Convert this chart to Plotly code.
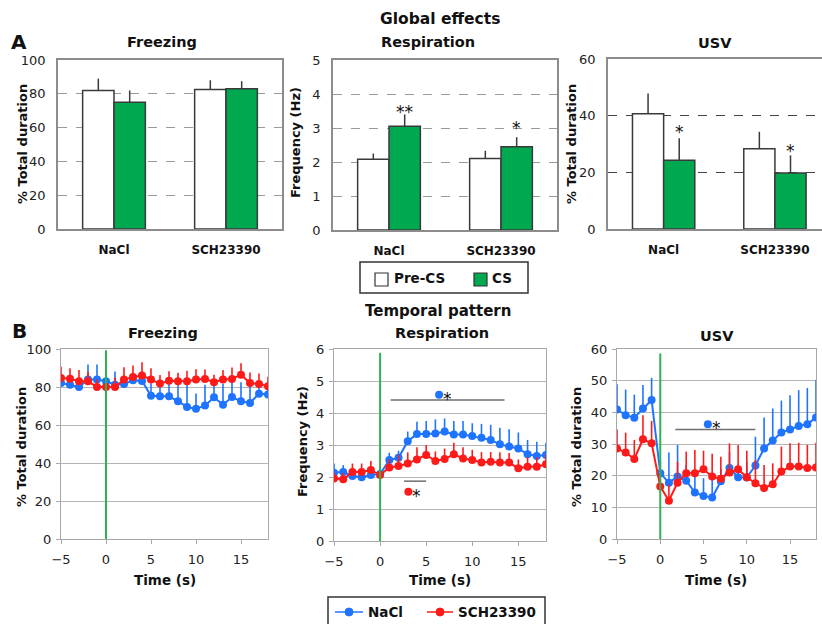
import plotly.graph_objects as go

W, H = 822, 624

# ---------------- data: Global effects (bar charts) ----------------
groups = ["NaCl", "SCH23390"]
freeze_pre = [82.0, 82.5]
freeze_pre_err = [7.0, 5.5]
freeze_cs = [75.0, 83.0]
freeze_cs_err = [7.0, 4.5]
resp_pre = [2.08, 2.10]
resp_pre_err = [0.17, 0.23]
resp_cs = [3.05, 2.45]
resp_cs_err = [0.35, 0.28]
usv_pre = [40.7, 28.3]
usv_pre_err = [7.1, 6.0]
usv_cs = [24.3, 19.8]
usv_cs_err = [7.7, 6.2]
resp_stars = ["**", "*"]
resp_star_y = [3.59, 3.12]
usv_stars = ["*", "*"]
usv_star_y = [35.6, 29.0]

# ---------------- data: Temporal pattern ----------------
time_s = list(range(-5, 19))
frz_nacl = [82.1, 81.2, 80.0, 83.9, 83.9, 83.0, 81.2, 81.6, 83.5, 83.2, 75.4, 75.1,
            75.1, 72.5, 69.5, 68.6, 70.2, 74.6, 70.7, 74.7, 72.5, 71.6, 76.5, 76.1]
frz_nacl_err = [3, 3, 3, 8, 8, 6, 7, 4, 4, 4, 6.6, 7, 7, 9, 12, 8, 11, 8, 11, 8, 10, 10, 6, 6]
frz_sch = [84.7, 84.4, 83.0, 83.0, 80.0, 80.0, 80.0, 83.9, 85.3, 86.0, 83.9, 81.8,
           83.3, 83.0, 83.0, 83.9, 84.2, 82.5, 83.9, 84.2, 86.5, 82.1, 81.6, 80.4]
frz_sch_err = [6, 5.5, 6, 5, 4, 4, 5, 6.5, 6, 7, 6, 4.5, 5, 4.5, 5.5, 5.5, 5, 4, 5, 6, 6, 5.5, 5.5, 5]

rsp_nacl = [2.13, 2.16, 2.03, 1.99, 2.06, 2.09, 2.53, 2.60, 3.12, 3.34, 3.34, 3.36,
            3.42, 3.33, 3.33, 3.28, 3.23, 3.16, 3.02, 2.95, 2.89, 2.71, 2.66, 2.69]
rsp_nacl_err = [0.29, 0.21, 0.12, 0.12, 0.15, 0.20, 0.23, 0.22, 0.30, 0.39, 0.41, 0.44,
                0.41, 0.42, 0.42, 0.40, 0.43, 0.47, 0.52, 0.54, 0.50, 0.45, 0.44, 0.38]
rsp_sch = [1.95, 1.93, 2.16, 2.16, 2.22, 2.06, 2.30, 2.34, 2.42, 2.55, 2.69, 2.50,
           2.56, 2.71, 2.58, 2.53, 2.45, 2.48, 2.45, 2.45, 2.27, 2.32, 2.32, 2.40]
rsp_sch_err = [0.20, 0.20, 0.26, 0.26, 0.28, 0.26, 0.25, 0.35, 0.35, 0.38, 0.31, 0.30,
               0.33, 0.36, 0.35, 0.32, 0.33, 0.30, 0.32, 0.30, 0.28, 0.30, 0.30, 0.30]

usv_nacl = [40.9, 39.1, 38.3, 41.2, 43.9, 20.8, 17.8, 19.7, 18.4, 14.7, 13.6, 13.1,
            18.2, 22.4, 19.5, 19.4, 23.2, 28.6, 31.1, 33.6, 34.6, 35.7, 36.2, 38.4]
usv_nacl_err = [8.0, 8.1, 7.3, 7.4, 7.0, 4.0, 9.5, 10.0, 5.0, 6.6, 5.6, 5.6,
                4.0, 5.0, 4.0, 5.0, 9.1, 9.8, 10.1, 10.1, 10.8, 11.3, 11.5, 11.8]
usv_sch = [28.6, 27.3, 25.3, 31.5, 30.2, 16.6, 12.1, 17.8, 20.8, 20.8, 22.0, 19.7,
           19.0, 21.0, 22.0, 19.5, 17.6, 16.1, 17.3, 21.3, 22.9, 22.9, 22.4, 22.6]
usv_sch_err = [6.0, 6.3, 6.0, 7.6, 7.1, 4.0, 5.0, 6.6, 6.8, 7.3, 5.9, 7.2,
               7.0, 9.2, 7.7, 8.4, 7.4, 7.3, 6.6, 7.9, 7.3, 7.5, 7.3, 7.8]

# significance markers (span start, span end, line y, dot x, dot y, star x)
rsp_sig_nacl = [1.15, 13.5, 4.41, 6.4, 4.57, 7.35]
rsp_sig_sch = [2.6, 5.0, 1.87, 3.07, 1.54, 4.0]
usv_sig_nacl = [1.75, 11.0, 34.6, 5.5, 36.2, 6.45]

# ---------------- styles ----------------
FONT = "DejaVu Sans"
BLUE = "#1f74ff"
RED = "#ff1a1a"
GREEN = "#00a94f"
VGREEN = "#2fb350"
DARK = "#333333"


def xd(a, b):
    return [a / W, b / W]


def yd(top, bottom):
    return [1 - bottom / H, 1 - top / H]


def px(x):
    return x / W


def py(y):
    return 1 - y / H


fig = go.Figure()


def ax(k):
    return ("x" if k == 1 else f"x{k}"), ("y" if k == 1 else f"y{k}")


def bar_panel(k, pre, pre_err, cs, cs_err):
    xa, ya = ax(k)
    pos = list(range(len(groups)))
    fig.add_trace(go.Bar(
        x=pos, y=pre, xaxis=xa, yaxis=ya, offsetgroup="pre", name="Pre-CS",
        marker=dict(color="white", line=dict(color="#3a3a3a", width=1.5)),
        error_y=dict(type="data", array=pre_err, arrayminus=[0] * len(pre),
                     symmetric=False, width=0, thickness=1.5, color="#3a3a3a"),
        showlegend=False))
    fig.add_trace(go.Bar(
        x=pos, y=cs, xaxis=xa, yaxis=ya, offsetgroup="cs", name="CS",
        marker=dict(color=GREEN, line=dict(color="#3a3a3a", width=1.5)),
        error_y=dict(type="data", array=cs_err, arrayminus=[0] * len(cs),
                     symmetric=False, width=0, thickness=1.5, color="#3a3a3a"),
        showlegend=False))


bar_panel(1, freeze_pre, freeze_pre_err, freeze_cs, freeze_cs_err)
bar_panel(2, resp_pre, resp_pre_err, resp_cs, resp_cs_err)
bar_panel(3, usv_pre, usv_pre_err, usv_cs, usv_cs_err)


def line_panel(k, nacl, nacl_err, sch, sch_err):
    xa, ya = ax(k)
    for vals, err, col, nm in [(nacl, nacl_err, BLUE, "NaCl"), (sch, sch_err, RED, "SCH23390")]:
        fig.add_trace(go.Scatter(
            x=time_s, y=vals, xaxis=xa, yaxis=ya, mode="lines+markers", name=nm,
            line=dict(color=col, width=2), marker=dict(color=col, size=8),
            error_y=dict(type="data", array=err, arrayminus=[0] * len(vals),
                         symmetric=False, width=0, thickness=1.6, color=col),
            showlegend=False))


line_panel(4, frz_nacl, frz_nacl_err, frz_sch, frz_sch_err)
line_panel(5, rsp_nacl, rsp_nacl_err, rsp_sch, rsp_sch_err)
line_panel(6, usv_nacl, usv_nacl_err, usv_sch, usv_sch_err)

shapes = []
annotations = []


def sig(k, spec, dotcol):
    xa, ya = ax(k)
    x0, x1, ly, dx, dy, sx = spec
    shapes.append(dict(type="line", xref=xa, yref=ya, x0=x0, x1=x1, y0=ly, y1=ly,
                       line=dict(color="#6e6e6e", width=1.5)))
    fig.add_trace(go.Scatter(x=[dx], y=[dy], xaxis=xa, yaxis=ya, mode="markers",
                             marker=dict(color=dotcol, size=8), showlegend=False,
                             hoverinfo="skip"))
    annotations.append(dict(xref=xa, yref=ya, x=sx, y=dy, text="*", showarrow=False,
                            font=dict(family=FONT, size=17, color="#111"),
                            yshift=-4))


sig(5, rsp_sig_nacl, BLUE)
sig(5, rsp_sig_sch, RED)
sig(6, usv_sig_nacl, BLUE)

# green CS-onset lines
for k, top in [(4, 99.3), (5, 5.88), (6, 58.6)]:
    xa, ya = ax(k)
    shapes.append(dict(type="line", xref=xa, yref=ya, x0=0, x1=0, y0=0, y1=top,
                       line=dict(color=VGREEN, width=2)))

# stars on bar charts
bar_off = (1 - 0.44) / 4
for i, s in enumerate(resp_stars):
    annotations.append(dict(xref="x2", yref="y2", x=i + bar_off, y=resp_star_y[i], text=s,
                            showarrow=False, yshift=-4,
                            font=dict(family=FONT, size=17, color="#111")))
for i, s in enumerate(usv_stars):
    annotations.append(dict(xref="x3", yref="y3", x=i + bar_off, y=usv_star_y[i], text=s,
                            showarrow=False, yshift=-4,
                            font=dict(family=FONT, size=17, color="#111")))


def txt(x, y, s, size=14, bold=True, xanchor="center", angle=0):
    annotations.append(dict(xref="paper", yref="paper", x=px(x), y=py(y), text=s,
                            showarrow=False, xanchor=xanchor, yanchor="middle",
                            textangle=angle,
                            font=dict(family=FONT, size=size, color="#111",
                                      weight="bold" if bold else "normal")))


# titles
txt(440, 19, "Global effects", 15.5)
txt(19, 42, "A", 20)
txt(162, 42, "Freezing", 14.5)
txt(428, 42, "Respiration", 14.5)
txt(715, 43, "USV", 14.5)
txt(438, 311, "Temporal pattern", 15)
txt(19, 331, "B", 20)
txt(163, 333, "Freezing", 14.5)
txt(442, 333, "Respiration", 14.5)
txt(717, 336, "USV", 14.5)

# axis titles
txt(22, 144, "% Total duration", 13, angle=-90)
txt(296, 143, "Frequency (Hz)", 13, angle=-90)
txt(571, 144, "% Total duration", 13, angle=-90)
txt(21, 447, "% Total duration", 13, angle=-90)
txt(302, 442, "Frequency (Hz)", 13, angle=-90)
txt(576, 447, "% Total duration", 13, angle=-90)
txt(165, 580, "Time (s)", 13.5)
txt(440, 580, "Time (s)", 13.5)
txt(716, 580, "Time (s)", 13.5)

# legend A
shapes.append(dict(type="rect", xref="paper", yref="paper", x0=px(360), x1=px(528),
                   y0=py(293), y1=py(262), line=dict(color=DARK, width=1.5)))
shapes.append(dict(type="rect", xref="paper", yref="paper", x0=px(375), x1=px(388),
                   y0=py(286), y1=py(273), line=dict(color=DARK, width=1.2),
                   fillcolor="white"))
shapes.append(dict(type="rect", xref="paper", yref="paper", x0=px(474), x1=px(487),
                   y0=py(286), y1=py(273), line=dict(color=DARK, width=1.2),
                   fillcolor=GREEN))
txt(392, 278, "Pre-CS", 13.5, xanchor="left")
txt(490, 278, "CS", 13.5, xanchor="left")

# legend B
shapes.append(dict(type="rect", xref="paper", yref="paper", x0=px(328), x1=px(545),
                   y0=py(640), y1=py(597), line=dict(color=DARK, width=1.5)))
for (x0, x1, cx, col, lab, tx) in [(335, 363, 349, BLUE, "NaCl", 366),
                                    (427, 453, 440, RED, "SCH23390", 456)]:
    shapes.append(dict(type="line", xref="paper", yref="paper", x0=px(x0), x1=px(x1),
                       y0=py(612), y1=py(612), line=dict(color=col, width=1.5)))
    shapes.append(dict(type="circle", xref="paper", yref="paper", x0=px(cx - 4),
                       x1=px(cx + 4), y0=py(616), y1=py(608), line=dict(color=col, width=1),
                       fillcolor=col))
    txt(tx, 612, lab, 13.5, xanchor="left")

tickfont = dict(family=FONT, size=13, color="#222")
catfont = dict(family=FONT, size=12, color="#111", weight="bold")


def bar_xaxis(dom, rng):
    return dict(domain=dom, range=rng, tickvals=list(range(len(groups))), ticktext=groups,
                tickfont=catfont, ticks="", showgrid=False, zeroline=False,
                showline=True, linecolor="#8c8c8c", linewidth=1.5, mirror=True,
                ticklabelstandoff=9, fixedrange=True, automargin=False)


def bar_yaxis(dom, rng, dt, gridcol, anchor):
    return dict(domain=dom, range=rng, dtick=dt, tickfont=tickfont, ticks="",
                showgrid=True, gridcolor=gridcol, griddash="dash", gridwidth=1,
                zeroline=False, showline=True, linecolor="#8c8c8c", linewidth=1.5,
                mirror=True, ticklabelstandoff=8, anchor=anchor, automargin=False)


def line_xaxis(dom):
    return dict(domain=dom, range=[-5, 18], tick0=0, dtick=5, tickfont=tickfont,
                ticks="outside", ticklen=4, tickcolor="#a8a8a8", showgrid=False,
                zeroline=False, showline=True, linecolor="#a8a8a8", linewidth=1.3,
                mirror=True, ticklabelstandoff=4, automargin=False)


def line_yaxis(dom, rng, dt, anchor):
    return dict(domain=dom, range=rng, dtick=dt, tickfont=tickfont, ticks="outside",
                ticklen=4, tickcolor="#a8a8a8", showgrid=True, gridcolor="#b5b5b5",
                gridwidth=1, zeroline=False, showline=True, linecolor="#a8a8a8",
                linewidth=1.3, mirror=True, ticklabelstandoff=2, anchor=anchor,
                automargin=False)


fig.update_layout(
    template="none",
    width=W, height=H, margin=dict(l=0, r=0, t=0, b=0, pad=0, autoexpand=False),
    paper_bgcolor="white", plot_bgcolor="white",
    barmode="group", bargap=0.44, bargroupgap=0,
    showlegend=False,
    font=dict(family=FONT, color="#222"),
    xaxis=bar_xaxis(xd(58, 282), [-0.5, 1.5]) | dict(anchor="y"),
    yaxis=bar_yaxis(yd(60, 229), [0, 100], 20, "#9a9a9a", "x"),
    xaxis2=bar_xaxis(xd(333, 557), [-0.5, 1.5]) | dict(anchor="y2"),
    yaxis2=bar_yaxis(yd(60, 230), [0, 5], 1, "#9a9a9a", "x2"),
    xaxis3=bar_xaxis(xd(608, 822), [-0.5, 1.423]) | dict(anchor="y3"),
    yaxis3=bar_yaxis(yd(59, 229), [0, 60], 20, "#444444", "x3"),
    xaxis4=line_xaxis(xd(61, 268)) | dict(anchor="y4"),
    yaxis4=line_yaxis(yd(349, 539), [0, 100], 20, "x4"),
    xaxis5=line_xaxis(xd(334, 546)) | dict(anchor="y5"),
    yaxis5=line_yaxis(yd(349, 541), [0, 6], 1, "x5"),
    xaxis6=line_xaxis(xd(617, 816)) | dict(anchor="y6"),
    yaxis6=line_yaxis(yd(349, 539), [0, 60], 10, "x6"),
    shapes=shapes,
    annotations=annotations,
)

fig.write_html(
    "out.html",
    config={"displayModeBar": False},
    post_script="document.body.style.margin='0';document.body.style.padding='0';"
                "document.body.style.overflow='hidden';",
)
